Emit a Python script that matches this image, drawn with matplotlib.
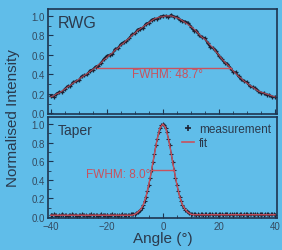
import numpy as np
import matplotlib.pyplot as plt
from matplotlib.ticker import MultipleLocator
from matplotlib.lines import Line2D

plt.rcParams['font.family'] = ['Liberation Sans', 'DejaVu Sans']

# RWG: angle grid 1 deg, measured and fitted intensity
rwg_angle = np.arange(-40, 41, 1)
rwg_meas = [0.18, 0.17, 0.20, 0.22, 0.22, 0.25, 0.28, 0.28, 0.32, 0.33,
            0.34, 0.38, 0.39, 0.40, 0.44, 0.45, 0.48, 0.49, 0.52, 0.56,
            0.59, 0.60, 0.61, 0.66, 0.67, 0.71, 0.73, 0.74, 0.77, 0.81,
            0.82, 0.86, 0.87, 0.88, 0.92, 0.93, 0.96, 0.97, 0.97, 0.99,
            1.00, 1.00, 0.99, 1.01, 0.99, 0.99, 0.96, 0.95, 0.94, 0.93,
            0.89, 0.85, 0.85, 0.80, 0.78, 0.77, 0.72, 0.68, 0.67, 0.64,
            0.59, 0.56, 0.52, 0.51, 0.47, 0.43, 0.42, 0.38, 0.35, 0.33,
            0.32, 0.28, 0.27, 0.26, 0.23, 0.21, 0.21, 0.19, 0.19, 0.17,
            0.17]
rwg_fit = [0.17, 0.18, 0.20, 0.21, 0.23, 0.25, 0.27, 0.29, 0.31, 0.33,
           0.35, 0.37, 0.39, 0.41, 0.43, 0.45, 0.47, 0.50, 0.52, 0.55,
           0.57, 0.60, 0.62, 0.65, 0.67, 0.70, 0.72, 0.75, 0.77, 0.80,
           0.82, 0.85, 0.87, 0.89, 0.91, 0.93, 0.95, 0.97, 0.98, 0.99,
           0.99, 1.00, 1.00, 1.00, 0.99, 0.98, 0.97, 0.95, 0.93, 0.91,
           0.89, 0.87, 0.84, 0.81, 0.78, 0.76, 0.73, 0.70, 0.67, 0.63,
           0.60, 0.56, 0.53, 0.50, 0.47, 0.44, 0.41, 0.38, 0.36, 0.33,
           0.31, 0.29, 0.27, 0.25, 0.23, 0.22, 0.21, 0.20, 0.19, 0.18,
           0.17]
rwg_fwhm = [-23.6, 24.3]
rwg_half = 0.47

# Taper: measurement on 0.5 deg grid, fit on 1 deg grid
taper_angle = np.arange(-40, 40.5, 0.5)
taper_meas = ([0.02, 0.02, 0.03, 0.02, 0.02, 0.01, 0.02, 0.02, 0.03, 0.02,
               0.02, 0.02, 0.01, 0.02, 0.02, 0.03, 0.02, 0.02, 0.02, 0.01,
               0.02, 0.02, 0.03, 0.02, 0.02, 0.02, 0.01, 0.02, 0.02, 0.03,
               0.02, 0.02, 0.02, 0.02, 0.01, 0.02, 0.03, 0.02, 0.02, 0.02,
               0.02, 0.01, 0.02, 0.02, 0.03, 0.02, 0.02, 0.02, 0.01, 0.02,
               0.02, 0.03, 0.02, 0.02, 0.02, 0.02, 0.02, 0.03, 0.03, 0.03]
              + [0.03, 0.04, 0.05, 0.06, 0.08, 0.10, 0.13, 0.17, 0.22, 0.28,
                 0.35, 0.42, 0.51, 0.59, 0.68, 0.77, 0.84, 0.91, 0.96, 0.99,
                 1.00,
                 0.99, 0.96, 0.91, 0.84, 0.77, 0.68, 0.59, 0.51, 0.42, 0.35,
                 0.28, 0.22, 0.17, 0.13, 0.10, 0.08, 0.06, 0.05, 0.04, 0.03]
              + [0.03, 0.03, 0.03, 0.02, 0.03, 0.02, 0.03, 0.03, 0.02, 0.03,
                 0.03, 0.02, 0.03, 0.03, 0.03, 0.02, 0.03, 0.03, 0.02, 0.03,
                 0.03, 0.03, 0.02, 0.03, 0.03, 0.03, 0.02, 0.03, 0.03, 0.02,
                 0.03, 0.03, 0.03, 0.02, 0.03, 0.03, 0.02, 0.03, 0.03, 0.03,
                 0.02, 0.03, 0.03, 0.03, 0.02, 0.03, 0.03, 0.02, 0.03, 0.03,
                 0.03, 0.02, 0.03, 0.03, 0.03, 0.02, 0.03, 0.03, 0.03, 0.02])
taper_fit_angle = np.arange(-40, 41, 1)
taper_fit = ([0.02] * 30 +
             [0.03, 0.05, 0.08, 0.13, 0.22, 0.35, 0.51, 0.68, 0.84, 0.96,
              1.00,
              0.96, 0.84, 0.68, 0.51, 0.35, 0.22, 0.13, 0.08, 0.05, 0.03]
             + [0.025] * 30)
taper_fwhm = [-3.9, 3.9]
taper_half = 0.51

bg = '#60bde9'
dark = '#1c2233'
red = '#c8525e'
navy = '#1d3550'
txt = '#2b3a4d'

fig = plt.figure(figsize=(2.82, 2.51), dpi=100, facecolor=bg)
ax1 = fig.add_axes([0.170, 0.542, 0.812, 0.418])
ax2 = fig.add_axes([0.170, 0.1275, 0.812, 0.402])

for ax in (ax1, ax2):
    ax.set_facecolor(bg)
    for s in ax.spines.values():
        s.set_color(navy)
        s.set_linewidth(1.2)
    ax.set_xlim(-41, 40.7)
    ax.xaxis.set_major_locator(MultipleLocator(20))
    ax.xaxis.set_minor_locator(MultipleLocator(5))
    ax.yaxis.set_major_locator(MultipleLocator(0.2))
    ax.yaxis.set_minor_locator(MultipleLocator(0.1))
    ax.tick_params(which='both', direction='in', colors=navy, labelcolor='#34495f',
                   labelsize=7, pad=2)
    ax.tick_params(which='major', length=3.5)
    ax.tick_params(which='minor', length=2)

ax1.set_ylim(-0.005, 1.07)
ax2.set_ylim(-0.01, 1.075)
ax1.tick_params(labelbottom=False)

# RWG
ax1.plot(rwg_angle, rwg_meas, color=dark, lw=1.5, marker='+', ms=3.5, mew=0.9)
ax1.plot(rwg_angle, rwg_fit, color=red, lw=0.8, alpha=0.8)
ax1.plot(rwg_fwhm, [rwg_half, rwg_half], color=red, lw=1.0)
ax1.text(1.8, 0.40, 'FWHM: 48.7°', color=red, fontsize=8.5,
         ha='center', va='center')
ax1.text(-37.5, 1.01, 'RWG', color=txt, fontsize=11.5, va='top', ha='left')

# Taper
ax2.plot(taper_angle, taper_meas, color=dark, lw=0.8, marker='+', ms=3, mew=0.8)
ax2.plot(taper_fit_angle, taper_fit, color=red, lw=1.0)
ax2.plot(taper_fwhm, [taper_half, taper_half], color=red, lw=1.0)
ax2.text(-4.4, 0.46, 'FWHM: 8.0°', color=red, fontsize=8.5,
         ha='right', va='center')
ax2.text(-37.5, 1.01, 'Taper', color=txt, fontsize=10, va='top', ha='left')

handles = [Line2D([], [], color=dark, lw=0, marker='+', ms=5, mew=1.2),
           Line2D([], [], color=red, lw=1.2)]
ax2.legend(handles, ['measurement', 'fit'], loc='upper right', frameon=False,
           fontsize=8.5, handlelength=1.0, handletextpad=0.4, labelspacing=0.2,
           borderaxespad=0.1, labelcolor=txt)

ax2.set_xlabel('Angle (°)', color=txt, fontsize=11, labelpad=0)
fig.text(0.045, 0.53, 'Normalised Intensity', rotation=90, color=txt,
         fontsize=11, ha='center', va='center')

fig.savefig('out.png', dpi=100, facecolor=bg)
